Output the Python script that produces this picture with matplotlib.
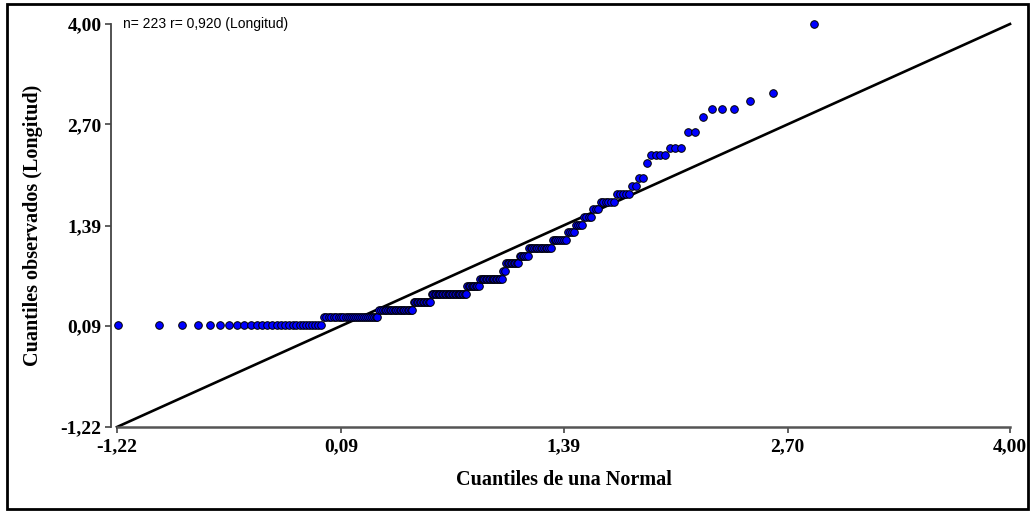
import matplotlib
matplotlib.use("Agg")
import matplotlib.pyplot as plt
from matplotlib.patches import Rectangle
from statistics import NormalDist, mean, pstdev

# Observed values (Longitud): distinct levels and how many observations at each
levels = [0.1, 0.2, 0.3, 0.4, 0.5, 0.6, 0.7, 0.8, 0.9, 1.0,
          1.1, 1.2, 1.3, 1.4, 1.5, 1.6, 1.7, 1.8, 1.9, 2.0,
          2.2, 2.3, 2.4, 2.6, 2.8, 2.9, 3.0, 3.1, 4.0]
counts = [28, 26, 21, 12, 25, 9, 16, 2, 9, 6,
          14, 8, 4, 4, 4, 3, 6, 5, 2, 2,
          1, 4, 3, 2, 1, 3, 1, 1, 1]

tick_values = [-1.22, 0.09, 1.39, 2.70, 4.00]
tick_labels = ["-1,22", "0,09", "1,39", "2,70", "4,00"]
annotation = "n= 223 r= 0,920 (Longitud)"
xlabel = "Cuantiles de una Normal"
ylabel = "Cuantiles observados (Longitud)"

# Sorted observations and theoretical normal quantiles (Q-Q plot)
observed = []
for v, c in zip(levels, counts):
    observed.extend([v] * c)
n = len(observed)
m, s = mean(observed), pstdev(observed)
nd = NormalDist(m, s)
theoretical = [nd.inv_cdf((i + 1 - 0.375) / (n + 0.25)) for i in range(n)]

W, H = 1032, 511
fig = plt.figure(figsize=(W / 100, H / 100), dpi=100)
fig.patch.set_facecolor("white")

left, right, top, bottom = 117, 1010, 24, 427
ax = fig.add_axes([left / W, (H - bottom) / H, (right - left) / W, (bottom - top) / H])
ax.set_xlim(tick_values[0], tick_values[-1])
ax.set_ylim(tick_values[0], tick_values[-1])

ax.plot([tick_values[0], tick_values[-1]], [tick_values[0], tick_values[-1]],
        color="black", lw=1.9, zorder=2, clip_on=False)
ax.scatter(theoretical, observed, s=30, facecolor="#0000ff", edgecolor="black",
           linewidths=0.7, zorder=3, clip_on=False)

for sp in ["top", "right"]:
    ax.spines[sp].set_visible(False)
ax.spines["left"].set_position(("outward", 4))
ax.spines["left"].set_color("#444444")
ax.spines["left"].set_linewidth(1.3)
ax.spines["bottom"].set_color("#555555")
ax.spines["bottom"].set_linewidth(1.8)

serif = ["Liberation Serif", "DejaVu Serif"]
ax.set_xticks(tick_values)
ax.set_xticklabels(tick_labels, fontfamily=serif, fontweight="bold", fontsize=14)
ax.set_yticks(tick_values)
ax.set_yticklabels(tick_labels, fontfamily=serif, fontweight="bold", fontsize=14)
ax.tick_params(axis="x", direction="out", length=4, width=1.2, color="#444444", pad=4)
ax.tick_params(axis="y", direction="out", length=4, width=1.2, color="#444444", pad=3)

ax.set_xlabel(xlabel, fontfamily=serif, fontweight="bold", fontsize=14.5, labelpad=11)
ax.set_ylabel(ylabel, fontfamily=serif, fontweight="bold", fontsize=14.5, labelpad=13)

fig.text(123 / W, (H - 24) / H, annotation, fontfamily=["Liberation Sans", "DejaVu Sans"],
         fontsize=10, ha="left", va="center")

fig.patches.append(Rectangle((7 / W, 2 / H), (1028 - 7) / W, (507 - 2) / H,
                             transform=fig.transFigure, fill=False,
                             edgecolor="black", linewidth=2.0))

fig.savefig("out.png", dpi=100)
